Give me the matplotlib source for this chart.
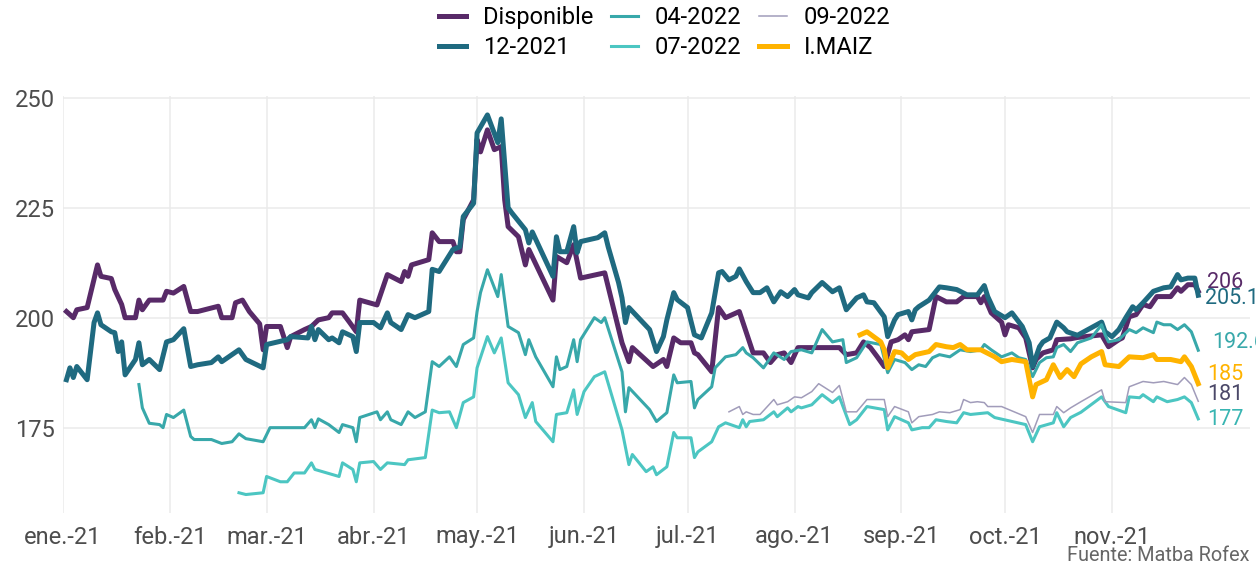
import matplotlib
matplotlib.use('Agg')
import matplotlib.pyplot as plt
import pandas as pd

# fuente tipográfica parecida a la del original
plt.rcParams['font.family'] = ['Roboto', 'DejaVu Sans']

# días desde el 1-ene-2021 y precios (USD/t)
disp_dia = [1, 3, 4, 7, 10, 11, 14, 15, 17, 18,
            21, 22, 23, 25, 29, 30, 32, 35, 37, 39,
            45, 46, 49, 50, 52, 54, 57, 58, 59, 63,
            65, 66, 70, 72, 74, 77, 78, 81, 83, 85,
            86, 91, 94, 98, 99, 100, 101, 106, 107, 109,
            113, 114, 115, 116, 119, 120, 121, 123, 125, 127,
            128, 129, 132, 134, 135, 142, 143, 146, 148, 150,
            157, 162, 164, 165, 171, 174, 175, 177, 179, 182,
            183, 184, 188, 190, 192, 196, 200, 203, 205, 207,
            209, 211, 213, 225, 227, 230, 232, 234, 236, 238,
            240, 242, 244, 245, 246, 251, 252, 253, 256, 259,
            261, 265, 266, 267, 269, 272, 273, 274, 277, 279,
            281, 282, 284, 287, 288, 292, 294, 301, 303, 306,
            307, 309, 311, 313, 315, 317, 321, 323, 324, 326,
            328, 329]
disp_val = [201.4, 200, 201.8, 202.3, 212, 209.4, 208.9, 206.4, 203, 200,
            200, 204, 201.8, 204, 204, 206, 205.6, 207.1, 201.4, 201.4,
            202.6, 200, 200, 203.4, 204, 201.4, 198.6, 192.7, 198, 198,
            193.2, 195.7, 197.3, 198, 199.5, 200, 201.1, 201.1, 199, 196.8,
            204, 202.9, 209.8, 208.2, 210.5, 209.4, 212, 213.2, 219.3, 217.3,
            217.3, 215, 215, 222.3, 226.8, 240.5, 237.7, 242.7, 238.2, 238.9,
            226.8, 220.7, 218.4, 212, 215.5, 204, 213.9, 212.5, 216.6, 209,
            210.2, 194.3, 190, 193.2, 188.9, 190.5, 188.9, 195.4, 194.3, 194.3,
            192, 191.6, 187.7, 202.3, 200, 201.4, 192, 192, 189.8, 191.6,
            192, 189.8, 193.2, 193.2, 191.6, 192, 194.5, 193.2, 191.1, 188.9,
            194.5, 195, 196.1, 195, 196.8, 197.3, 201.1, 204.8, 203.6, 203.6,
            204.8, 204.8, 203.4, 204.8, 201.1, 199, 196.1, 198.4, 197.7, 195.4,
            188.6, 190.5, 192, 192.7, 195, 195.2, 195.5, 196.1, 193.4, 195,
            195.4, 200.2, 200.7, 203, 202.5, 204.8, 204.8, 206.8, 206, 207.5,
            207.5, 206]

dic21_dia = [1, 2, 3, 4, 7, 9, 10, 11, 14, 15,
             16, 17, 18, 21, 22, 23, 25, 28, 30, 32,
             35, 37, 39, 43, 45, 46, 51, 53, 58, 59,
             65, 66, 71, 72, 73, 74, 77, 78, 80, 81,
             84, 85, 86, 90, 92, 94, 95, 98, 100, 102,
             106, 107, 109, 113, 115, 116, 119, 120, 123, 126,
             127, 129, 130, 134, 135, 136, 142, 143, 144, 146,
             148, 149, 150, 155, 157, 158, 161, 162, 163, 164,
             170, 172, 174, 175, 177, 178, 181, 183, 185, 188,
             190, 191, 193, 195, 196, 198, 200, 202, 204, 206,
             208, 210, 212, 213, 216, 217, 220, 223, 225, 227,
             230, 232, 233, 235, 238, 239, 241, 242, 245, 246,
             247, 248, 251, 254, 256, 259, 262, 265, 267, 268,
             270, 273, 275, 278, 280, 281, 283, 284, 286, 288,
             290, 291, 294, 301, 302, 304, 306, 308, 310, 311,
             313, 316, 319, 321, 323, 324, 326, 328, 329]
dic21_val = [185.9, 188.6, 186.4, 188.9, 185.9, 198.9, 201.1, 198.4, 196.8, 196.6,
             192.3, 194.5, 187, 190.5, 194.3, 189.3, 190.5, 188.2, 194.5, 195,
             197.5, 188.9, 189.3, 189.8, 191.1, 190, 192.7, 190.5, 188.6, 193.9,
             195, 195.7, 195.4, 198, 195, 197.3, 195, 195.4, 194.3, 196.8,
             195.7, 192.3, 198.9, 198.9, 197.7, 201.1, 198.9, 197.3, 200.7, 200,
             201.4, 211, 210.5, 215.5, 216.1, 223, 226, 242, 246.1, 239.8,
             245.2, 225, 223.9, 220, 217, 219.5, 209.4, 218.4, 215, 215,
             220.7, 214.8, 217.3, 218.2, 219.3, 216.1, 208, 204.5, 198.9, 202.3,
             197.3, 192.3, 195.7, 199.5, 205.7, 204.1, 202.3, 196.1, 195.4, 201.1,
             210.2, 210.5, 208.6, 209.4, 211.1, 208.2, 205.7, 205.7, 206.8, 203.6,
             205.9, 204.8, 206.4, 205.2, 204.5, 205.7, 208, 205.9, 206.8, 201.8,
             204.5, 205.2, 203.6, 203.4, 200.2, 195.7, 199.5, 200.7, 201.4, 199.5,
             201.8, 202.5, 204, 207, 206.8, 206.4, 205.2, 205.2, 207.3, 204.8,
             201.4, 200, 201.1, 198, 194.3, 188.9, 193.4, 194.5, 195.4, 199,
             197.7, 196.8, 196, 199, 196.8, 195.7, 197.3, 200, 202.5, 201.8,
             203.4, 206, 206.8, 207, 209.8, 208.6, 209, 209, 205.1]

abr22_dia = [22, 23, 25, 28, 29, 30, 32, 35, 37, 38,
             43, 46, 49, 51, 53, 58, 60, 70, 72, 73,
             74, 77, 80, 81, 84, 85, 86, 91, 92, 94,
             95, 98, 100, 102, 105, 107, 109, 112, 114, 116,
             119, 120, 121, 123, 126, 127, 129, 132, 134, 135,
             137, 142, 143, 144, 146, 148, 149, 150, 154, 156,
             157, 162, 163, 164, 170, 172, 175, 177, 178, 182,
             183, 184, 188, 189, 192, 195, 197, 198, 200, 203,
             206, 209, 211, 214, 217, 220, 223, 226, 227, 230,
             233, 237, 239, 241, 244, 246, 248, 250, 252, 254,
             257, 260, 263, 266, 267, 269, 272, 275, 277, 279,
             281, 283, 285, 287, 288, 290, 292, 294, 298, 301,
             302, 303, 306, 309, 311, 313, 316, 317, 319, 321,
             323, 325, 327, 329]
abr22_val = [184.8, 179.5, 176, 175.7, 175, 178, 177.3, 179, 173, 172.3,
             172.3, 171.4, 171.8, 173.6, 172.5, 171.8, 175, 175, 176.8, 175,
             177, 175.7, 173.9, 175.7, 175, 171.8, 177.3, 178.6, 176.8, 178.6,
             176.8, 175.7, 178.6, 177.3, 178.6, 190, 188.9, 191.1, 188.9, 193.9,
             195.4, 201.4, 205.7, 210.9, 204.8, 209.8, 198, 196.6, 191.6, 195,
             191.1, 184.3, 191.1, 188.2, 188.9, 195, 190, 195, 200, 198.9,
             200, 187.7, 178.6, 184.1, 179.1, 176.4, 178.4, 187, 185.2, 185.5,
             179.5, 181.4, 184.3, 188.6, 191.1, 191.6, 193.2, 192, 190.9, 188.6,
             192, 190.5, 192.3, 192.7, 192, 197.3, 194.5, 195, 189.8, 190.9,
             194.5, 193.9, 187.5, 190.5, 189.8, 188.2, 189.3, 188.9, 190.9, 191.6,
             191.1, 192.7, 192.3, 192.7, 193.9, 192.7, 191.1, 192, 190.9, 190.5,
             186.6, 189.8, 190.9, 191.1, 193.2, 193.9, 192.3, 194.3, 195.4, 198.4,
             196.1, 194.5, 195, 197.3, 196.6, 197.7, 196.6, 199, 198.4, 198.4,
             197.3, 198.4, 196.8, 192.6]

jul22_dia = [51, 53, 58, 59, 63, 65, 67, 70, 72, 73,
             80, 81, 84, 85, 86, 90, 92, 94, 99, 100,
             105, 107, 109, 112, 114, 116, 119, 120, 123, 125,
             127, 129, 132, 134, 136, 137, 142, 143, 146, 148,
             149, 151, 154, 157, 162, 164, 165, 169, 171, 172,
             175, 177, 178, 182, 183, 184, 188, 190, 192, 196,
             197, 198, 199, 203, 206, 207, 210, 211, 213, 214,
             217, 220, 223, 225, 228, 230, 233, 238, 239, 241,
             245, 246, 249, 251, 253, 256, 259, 261, 263, 268,
             270, 279, 281, 283, 287, 288, 290, 292, 295, 301,
             303, 308, 309, 312, 313, 316, 317, 320, 323, 325,
             327, 329]
jul22_val = [160.2, 159.8, 160.2, 163.9, 162.7, 162.7, 164.7, 164.7, 167, 165.5,
             163.9, 167, 165.5, 162.7, 167, 167.3, 165.5, 167, 166.6, 167.7,
             168.2, 179, 178.4, 178.6, 175, 180.7, 182, 188.6, 195.7, 192,
             195.4, 185.2, 182.5, 177.3, 180.7, 176.4, 171.8, 178, 178.4, 183.6,
             178, 183.2, 186.6, 187.7, 174.5, 166.6, 168.9, 165, 166.1, 164.3,
             166.1, 173.9, 172.7, 172.7, 168.2, 169.5, 171.8, 175.2, 176.1, 175,
             176.8, 175.2, 176.4, 176.8, 178.6, 177.5, 179.5, 178.6, 179.8, 179.5,
             180.2, 182.5, 180.7, 182, 175.7, 176.8, 179.8, 179.1, 174.5, 177.5,
             176.1, 174.5, 175, 175, 176.8, 176.4, 176.1, 178.4, 178, 178.4,
             177.3, 175.7, 171.8, 175.2, 176.1, 178.4, 175.2, 177.3, 178.5, 182,
             179.8, 178.4, 182, 181.8, 182.5, 180.9, 182, 180.9, 181.4, 182,
             180.7, 177]

sep22_dia = [193, 196, 197, 198, 200, 202, 206, 207, 210, 212,
             214, 217, 219, 223, 225, 227, 230, 233, 238, 239,
             241, 245, 246, 248, 252, 254, 257, 260, 261, 263,
             265, 267, 268, 272, 279, 281, 283, 287, 288, 290,
             292, 295, 301, 302, 308, 309, 313, 316, 319, 323,
             325, 327, 329]
sep22_val = [178.6, 179.8, 178, 178.6, 178, 178, 181.4, 180.2, 180.9, 182,
             181.8, 183.2, 185, 183, 184.6, 178.6, 178.6, 181.4, 181.4, 177.5,
             179.8, 178.6, 176.1, 177.5, 178, 178.6, 178.4, 179.1, 181.4, 180.7,
             180.9, 180.7, 179.8, 179.8, 177.5, 173.9, 178, 178, 179.8, 178.4,
             179.5, 180.9, 183.6, 180.9, 180.7, 184.3, 185.5, 185.2, 185.5, 184.8,
             186.4, 184.8, 181]

imaiz_dia = [231, 233, 237, 238, 239, 241, 243, 245, 247, 251,
             253, 256, 258, 260, 262, 266, 270, 272, 275, 279,
             281, 282, 285, 287, 289, 291, 293, 295, 298, 301,
             302, 306, 309, 313, 316, 317, 321, 324, 325, 327,
             329]
imaiz_val = [196.1, 196.8, 194.5, 192.7, 188.6, 192.3, 192, 190.5, 191.6, 192.3,
             193.9, 193.4, 193.2, 193.9, 192.7, 192.7, 191.1, 190, 190.5, 190,
             182, 184.8, 185.9, 189.3, 186.4, 188.2, 186.6, 189.5, 191.1, 192.3,
             189.3, 188.9, 191.1, 190.9, 191.6, 190.5, 190.5, 190, 191.1, 188.9,
             185]

nombres = ['Disponible', '12-2021', '04-2022', '07-2022', '09-2022', 'I.MAIZ']
etiquetas = ['206', '205.1', '192.6', '185', '181', '177']
meses = ['ene.-21', 'feb.-21', 'mar.-21', 'abr.-21', 'may.-21', 'jun.-21',
         'jul.-21', 'ago.-21', 'sep.-21', 'oct.-21', 'nov.-21']

inicio = pd.Timestamp('2021-01-01')


def fechas(dias):
    return inicio + pd.to_timedelta(dias, unit='D')


fig = plt.figure(figsize=(12.56, 5.72), dpi=100)
ax = fig.add_axes([63 / 1256, 1 - 513 / 572, (1250 - 63) / 1256, (513 - 96) / 572])

series = [
    (disp_dia, disp_val, '#582a68', 3.6),
    (dic21_dia, dic21_val, '#1f6a80', 3.6),
    (abr22_dia, abr22_val, '#38a8aa', 2.2),
    (jul22_dia, jul22_val, '#4cc6c2', 2.2),
    (sep22_dia, sep22_val, '#a19cba', 1.1),
    (imaiz_dia, imaiz_val, '#ffb300', 3.6),
]

for (dias, vals, color, lw), nombre in zip(series, nombres):
    ax.plot(fechas(dias), vals, color=color, lw=lw, label=nombre,
            solid_joinstyle='round')

# etiquetas con el último valor, a la derecha de cada serie
color_etiq = ['#582a68', '#1f6a80', '#38a8aa', '#ffb300', '#4b4868', '#38b5b2']
orden = [0, 1, 2, 5, 4, 3]
desp_y = [1.9, -0.8, 1.7, 2.0, 1.5, -0.2]
desp_x = [2.6, 2.0, 4.0, 2.6, 2.6, 2.6]
for i, k in enumerate(orden):
    dias, vals = series[k][0], series[k][1]
    ax.text(fechas(dias[-1] + desp_x[i]), vals[-1] + desp_y[i], etiquetas[i],
            color=color_etiq[i], fontsize=15.5, va='center', ha='left', clip_on=False)

ax.set_xlim(fechas(0), fechas(344))
ax.set_ylim(155.6, 250.4)
ax.set_xticks(pd.date_range('2021-01-01', periods=len(meses), freq='MS'))
ax.set_xticklabels(meses)
ax.set_yticks([175, 200, 225, 250])
ax.grid(color='#ebebeb', lw=1.1)
ax.set_axisbelow(True)
for s in ax.spines.values():
    s.set_visible(False)
ax.tick_params(length=0, labelsize=17, labelcolor='#4d4d4d')
ax.tick_params(axis='x', pad=9)
ax.tick_params(axis='y', pad=6)

fig.legend(ncol=3, loc='upper center', bbox_to_anchor=(0.529, 1.026), frameon=False,
           fontsize=17, handlelength=1.15, columnspacing=0.75, labelspacing=0.3,
           handletextpad=0.72)

fig.text(0.995, 0.012, 'Fuente: Matba Rofex', ha='right', va='bottom',
         fontsize=14.3, color='#666666')

fig.savefig('out.png', dpi=100)
